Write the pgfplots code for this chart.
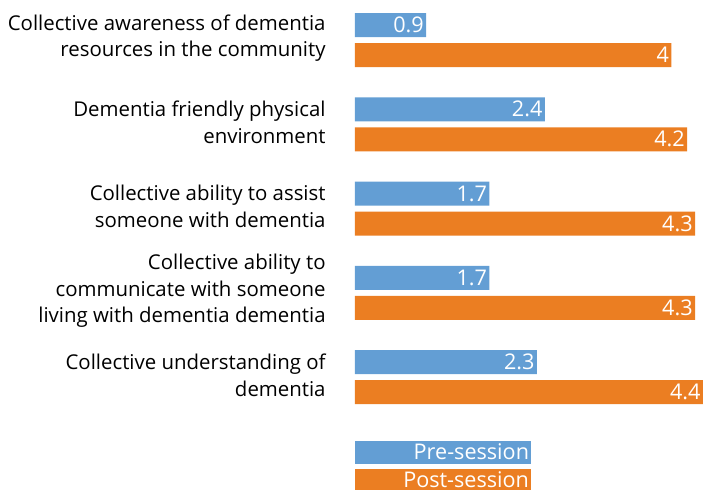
\documentclass[border=0pt]{standalone}
\usepackage{fontspec}
\setmainfont{Open Sans}
\usepackage{pgfplots}
\pgfplotsset{compat=1.18}
\definecolor{preblue}{HTML}{639ED4}
\definecolor{postorange}{HTML}{EB7E22}
\begin{document}
\begin{tikzpicture}
\begin{axis}[
  xbar, scale only axis, width=174pt, height=245pt,
  xmin=0, xmax=4.4, ymin=-0.475, ymax=5.34, y dir=reverse,
  axis line style={draw=none}, major tick length=0pt, xtick=\empty,
  ytick={0,1,2,3,4},
  yticklabels={{Collective awareness of dementia\\resources in the community},{Dementia friendly physical\\environment},{Collective ability to assist\\someone with dementia},{Collective ability to\\communicate with someone\\living with dementia dementia},{Collective understanding of\\dementia}},
  yticklabel style={align=right, font=\fontsize{10.2}{13.3}\selectfont, inner sep=0pt, xshift=-14.5pt, yshift=1pt},
  bar width=12pt,
  nodes near coords,
  every node near coord/.append style={anchor=east, text=white, font=\fontsize{10.8}{12}\selectfont, inner sep=1pt},
  /pgf/number format/assume math mode=true,
  legend style={draw=none, fill=none, at={(axis cs:0,4.76)}, anchor=north west, inner sep=0pt, outer sep=0pt, row sep=2.5pt, legend cell align=left, font=\fontsize{10.8}{12}\selectfont},
]
\addplot[fill=preblue, draw=none, bar shift=7.5pt,
  legend image code/.code={\fill[preblue] (0pt,-5.75pt) rectangle (88pt,5.75pt); \node[anchor=east,text=white,inner sep=1pt] at (88pt,0pt) {Pre-session};}]
  coordinates {(0.9,0) (2.4,1) (1.7,2) (1.7,3) (2.3,4)};
\addlegendentry{}
\addplot[fill=postorange, draw=none, bar shift=-7.5pt,
  legend image code/.code={\fill[postorange] (0pt,-5.75pt) rectangle (88pt,5.75pt); \node[anchor=east,text=white,inner sep=1pt] at (88pt,0pt) {Post-session};}]
  coordinates {(4,0) (4.2,1) (4.3,2) (4.3,3) (4.4,4)};
\addlegendentry{}
\end{axis}
\pgfresetboundingbox
\useasboundingbox (-177.5pt,0pt) rectangle (174pt,245pt);
\end{tikzpicture}
\end{document}
